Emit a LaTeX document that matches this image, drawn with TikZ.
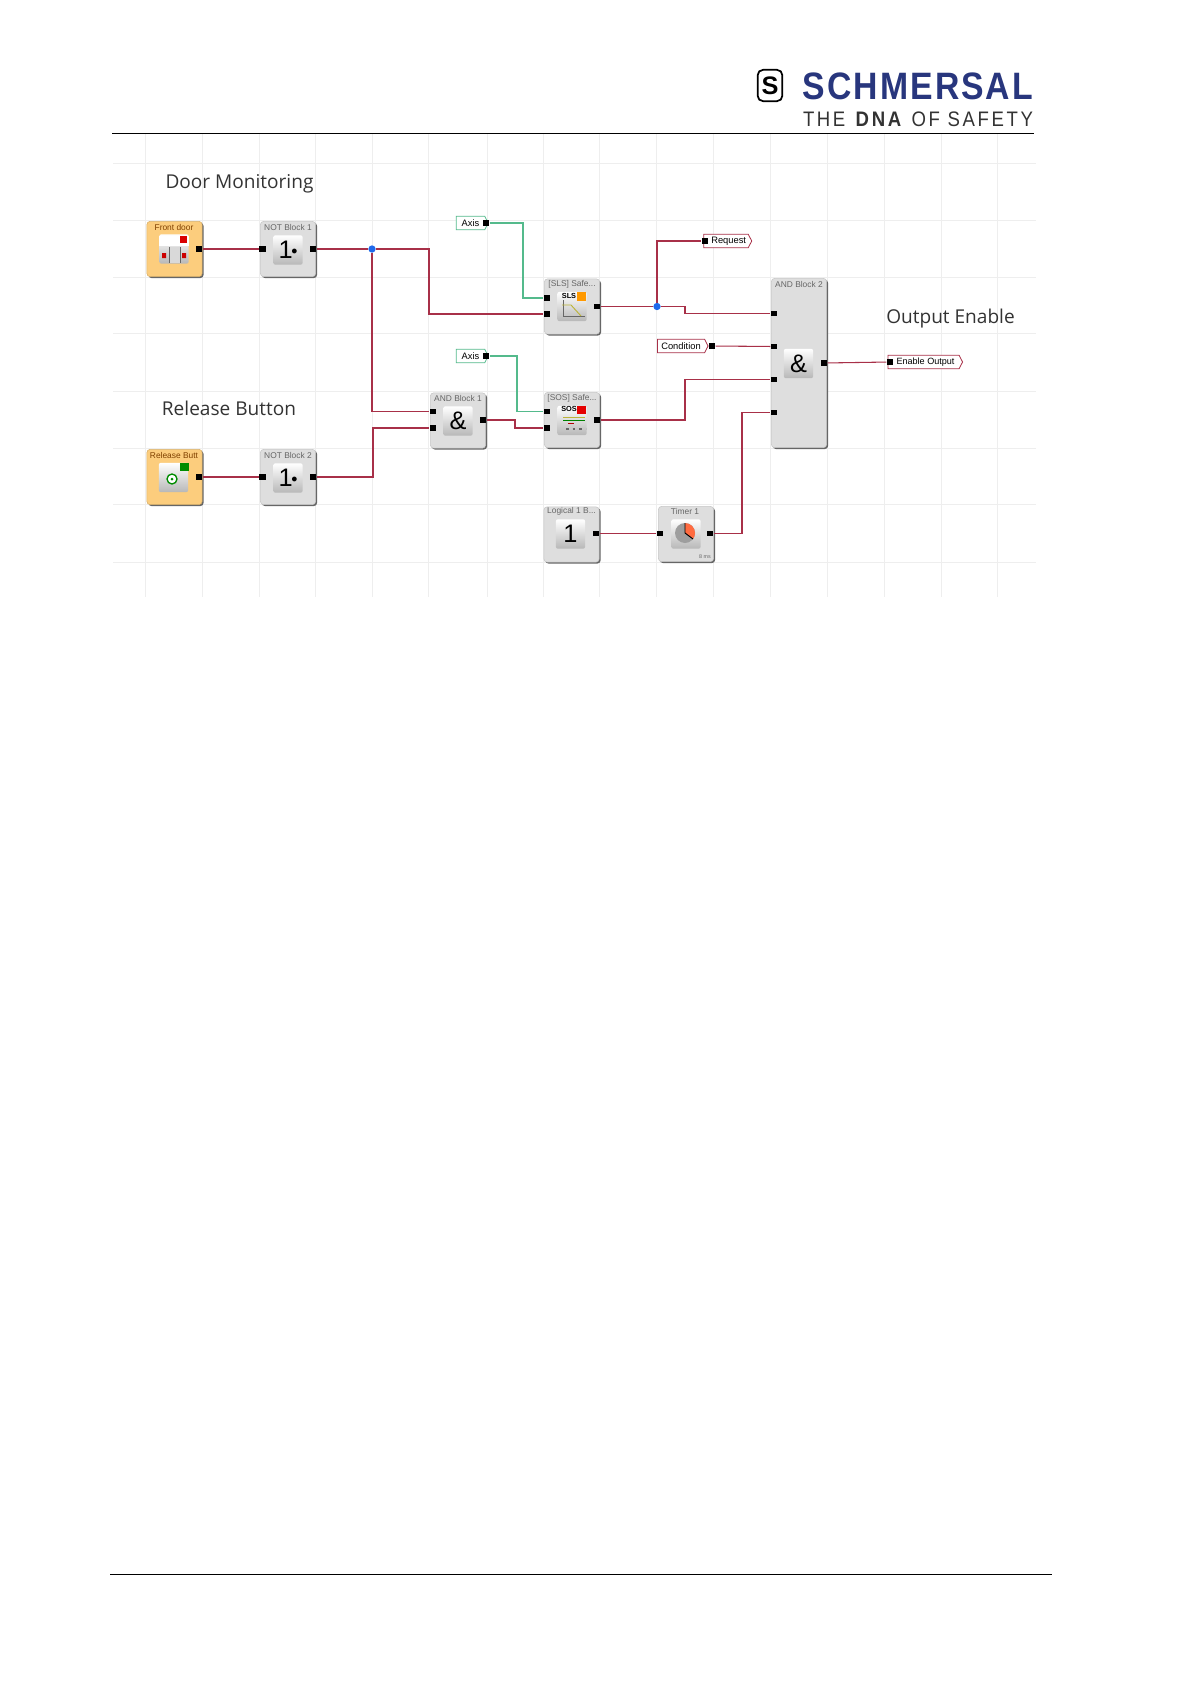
\documentclass[tikz,border=0pt]{standalone}
\usepackage{graphicx}
\usepackage{fontspec}
\setmainfont{Liberation Sans}
\newfontfamily\headfont{Open Sans}
\newfontfamily\brandfont[LetterSpace=6]{Liberation Sans}
\newfontfamily\linefont[LetterSpace=14]{Liberation Sans}
\usetikzlibrary{shadows,shapes.symbols}
\definecolor{wirered}{RGB}{168,48,72}
\definecolor{wiregreen}{RGB}{84,186,140}
\definecolor{gridgray}{RGB}{238,238,238}
\definecolor{brandblue}{RGB}{40,54,125}
\definecolor{dotblue}{RGB}{30,105,235}
\definecolor{inputorange}{RGB}{252,205,125}
\tikzset{
  blockbox/.style={rectangle,rounded corners=2.5pt,draw=gray!45,fill=black!13,
    minimum width=41.5pt,minimum height=41.5pt,inner sep=0pt,
    general shadow={shadow xshift=1.1pt,shadow yshift=-1.1pt,fill=black!60}},
  inputbox/.style={blockbox,fill=inputorange,draw=inputorange!85!black},
  iconbox/.style={rectangle,rounded corners=1.5pt,top color=white,bottom color=black!28,
    minimum width=22pt,minimum height=22pt,inner sep=0pt},
  symbolbox/.style={iconbox,font=\fontsize{19}{19}\selectfont},
  porthole/.style={rectangle,fill=black,minimum width=5pt,minimum height=4pt,inner sep=0pt},
  joint/.style={circle,fill=dotblue,minimum size=5.5pt,inner sep=0pt},
  wire/.style={draw=wirered,line width=0.8pt},
  greenwire/.style={draw=wiregreen,line width=0.8pt},
  blocktitle/.style={font=\fontsize{6.3}{7}\selectfont,text=black!60,inner sep=0pt},
  doortitle/.style={blocktitle,text=orange!50!black},
  tagin/.style={shape=signal,signal to=east,signal pointer angle=125,draw=wirered,fill=white,line width=0.6pt,
    inner sep=0pt,minimum height=10pt,font=\fontsize{7}{8}\selectfont},
  axistag/.style={tagin,draw=wiregreen},
  heading/.style={font=\headfont\fontsize{14.3}{16}\selectfont,text=black!80,inner sep=0pt},
}

\begin{document}
\begin{tikzpicture}[x=0.75pt,y=0.75pt,yscale=-1,xscale=1]
\useasboundingbox (0,0) rectangle (1190,1684);

%Grid
\foreach \gridx in {145,202,259,315,372,428,487,543,599,656,713,770,827,884,941,997}
  \draw [gridgray] (\gridx,134) -- (\gridx,597);
\foreach \gridy in {163,220,277,333,391,448,504,562}
  \draw [gridgray] (113,\gridy) -- (1036,\gridy);

%Header and footer rules
\draw [line width=0.7pt] (112,133) -- (1034,133);
\draw [line width=0.7pt] (110,1574) -- (1052,1574);

%Logo
\node (logobox) at (770,85.5) [rectangle,rounded corners=4pt,draw=black,line width=1.3pt,minimum width=18.5pt,minimum height=23.5pt,inner sep=0pt] {\fontsize{19}{19}\selectfont\bfseries S};
\node (brandname) at (918,86.5) [inner sep=0pt,text=brandblue] {\resizebox{172.5pt}{20pt}{\brandfont\bfseries SCHMERSAL}};
\node (brandline) at (918,119) [inner sep=0pt,text=black!80] {\resizebox{172.5pt}{11pt}{\linefont THE \textbf{DNA} OF SAFETY}};

% Text Node
\node (doorhead) at (239.5,184) [heading] {Door Monitoring};
\node (releasehead) at (229,408.5) [heading] {Release Button};
\node (outputhead) at (950.5,319) [heading] {Output Enable};

%Blocks
\node (frontdoor) at (174.5,249) [inputbox] {};
\node (notone) at (288,249) [blockbox] {};
\node (releasebtn) at (174.5,477) [inputbox] {};
\node (nottwo) at (288,477) [blockbox] {};
\node (andone) at (458,420.5) [blockbox] {};
\node (slsblock) at (572,306.5) [blockbox] {};
\node (sosblock) at (572,420) [blockbox] {};
\node (logicone) at (571.5,534.5) [blockbox] {};
\node (timerone) at (686,534) [blockbox] {};
\node (andtwo) at (799,363) [blockbox,minimum height=127pt] {};

%Block titles
\node (fronttitle) at (174,227.5) [doortitle] {Front door};
\node (notonetitle) at (288,227.5) [blocktitle] {NOT Block 1};
\node (releasetitle) at (174,455) [doortitle] {Release Butt};
\node (nottwotitle) at (288,455) [blocktitle] {NOT Block 2};
\node (andonetitle) at (458,398.5) [blocktitle] {AND Block 1};
\node (slstitle) at (572,284) [blocktitle] {[SLS] Safe...};
\node (sostitle) at (572,398) [blocktitle] {[SOS] Safe...};
\node (logictitle) at (571.5,511.5) [blocktitle] {Logical 1 B...};
\node (timertitle) at (685,511) [blocktitle] {Timer 1};
\node (andtwotitle) at (799,284) [blocktitle] {AND Block 2};
\node (timerunit) at (705,557) [blocktitle,font=\fontsize{4}{4}\selectfont] {8 ms};

%Icons
\node (notoneicon) at (288,250) [symbolbox] {1\hspace{-1pt}\raisebox{3.5pt}{\fontsize{9}{9}\selectfont$\bullet$}};
\node (nottwoicon) at (288,478) [symbolbox] {1\hspace{-1pt}\raisebox{3.5pt}{\fontsize{9}{9}\selectfont$\bullet$}};
\node (andoneicon) at (458,421) [symbolbox] {\&};
\node (andtwoicon) at (798.5,363.5) [symbolbox] {\&};
\node (logicicon) at (570.5,534) [symbolbox] {1};
\node (timericon) at (686,534) [iconbox] {};
\node (sosicon) at (572,420.5) [iconbox] {};
\node (slsicon) at (572,306.5) [iconbox] {};
\node (fronticon) at (174,249) [iconbox] {};
\node (releaseicon) at (173.5,477.5) [iconbox] {};

%Shape: door icon
\fill [white] (159,236) rectangle (189,246);
\fill [black!15] (169,247) rectangle (180,263);
\draw [black!60] (169,247) -- (169,263) (180,247) -- (180,263);
\fill [red!85!black] (180,236) rectangle (187,243);
\fill [red!80!black] (162,253) rectangle (166,258) (182,253) rectangle (186,258);
%Shape: button icon
\fill [green!55!black] (180,463) rectangle (189,471);
\draw [green!55!black,fill=white,line width=1pt] (172,479) circle (5);
\fill [green!55!black] (172,479) circle (1.5);
%Shape: SLS icon
\node (slsname) at (569,295.5) [inner sep=0pt,font=\fontsize{5.5}{6}\selectfont\bfseries] {SLS};
\fill [orange!80!yellow] (577,292) rectangle (586,301);
\draw [black!60,line width=0.4pt] (563,300) -- (563,316) -- (585,316);
\draw [yellow!70!black,line width=0.7pt] (562,305) -- (571,305) -- (581,316);
%Shape: SOS icon
\node (sosname) at (569,409) [inner sep=0pt,font=\fontsize{5.5}{6}\selectfont\bfseries] {SOS};
\fill [red!90!black] (577,406) rectangle (586,414);
\draw [yellow!70!black,line width=0.5pt] (563,417) -- (585,417);
\draw [green!50!black,line width=0.5pt] (563,420) -- (585,420);
\draw [red!70!black,line width=0.5pt] (568,423) -- (574,423);
\draw [black!60,line width=0.8pt,dash pattern={on 2pt off 3pt}] (566,429) -- (586,429);
%Shape: timer icon
\fill [black!38] (685,533) circle (10);
\fill [red!55!orange!75] (685,533) -- (685,523) arc (-90:35:10) -- cycle;
\draw [line width=0.7pt] (685,523) -- (685,533) -- (693,539);

%Ports
\node (frontout) at (199,249) [porthole] {};
\node (notonein) at (262.5,249) [porthole] {};
\node (notoneout) at (313,249) [porthole] {};
\node (releaseout) at (199,477) [porthole] {};
\node (nottwoin) at (262.5,477) [porthole] {};
\node (nottwoout) at (313,477) [porthole] {};
\node (andonea) at (433,411.5) [porthole] {};
\node (andoneb) at (433,428) [porthole] {};
\node (andoneout) at (483,420) [porthole] {};
\node (slsa) at (547,298) [porthole] {};
\node (slsb) at (547,314) [porthole] {};
\node (slsout) at (597,306.5) [porthole] {};
\node (sosa) at (547,411.5) [porthole] {};
\node (sosb) at (547,428) [porthole] {};
\node (sosout) at (597,420) [porthole] {};
\node (logicout) at (596,533.5) [porthole] {};
\node (timerin) at (660,533.5) [porthole] {};
\node (timerout) at (710,533.5) [porthole] {};
\node (andtwoa) at (774,313.5) [porthole] {};
\node (andtwob) at (774,346.5) [porthole] {};
\node (andtwoc) at (774,379.5) [porthole] {};
\node (andtwod) at (774,412.5) [porthole] {};
\node (andtwoout) at (824,363) [porthole] {};

%Tags
\node (axisone) at (470.5,223) [axistag,minimum width=24pt] {Axis\hspace{5pt}};
\node (axistwo) at (470.5,356) [axistag,minimum width=24pt] {Axis\hspace{5pt}};
\node (conditiontag) at (681,346) [tagin,minimum width=38pt] {Condition\hspace{3pt}};
\node (requesttag) at (726,241) [tagin,minimum width=36pt] {\hspace{4pt}Request};
\node (enabletag) at (923.5,362) [tagin,minimum width=56pt,font=\fontsize{6.8}{8}\selectfont] {\hspace{3pt}Enable Output};
\node (axisoneout) at (486,223) [porthole] {};
\node (axistwoout) at (486,356) [porthole] {};
\node (conditionout) at (712,346) [porthole] {};
\node (requestin) at (705,241) [porthole] {};
\node (enablein) at (890,362) [porthole] {};

%Junctions
\node (doorjoint) at (372,249) [joint] {};
\node (slsjoint) at (657,306.5) [joint] {};

%Straight Lines
\draw [wire] (frontout) -- (notonein);
\draw [wire] (releaseout) -- (nottwoin);
\draw [wire] (notoneout) -- (doorjoint);
\draw [wire] (doorjoint) -- (429,249) |- (slsb);
\draw [wire] (doorjoint) |- (andonea);
\draw [wire] (nottwoout) -- (373,477) |- (andoneb);
\draw [wire] (andoneout) -- (515,420) |- (sosb);
\draw [wire] (slsout) -- (slsjoint);
\draw [wire] (slsjoint) |- (requestin);
\draw [wire] (slsjoint) -- (685,306.5) |- (andtwoa);
\draw [wire] (conditionout) -- (andtwob);
\draw [wire] (sosout) -- (685,420) |- (andtwoc);
\draw [wire] (logicout) -- (timerin);
\draw [wire] (timerout) -- (742,533.5) |- (andtwod);
\draw [wire] (andtwoout) -- (enablein);
\draw [greenwire] (axisoneout) -- (523,223) |- (slsa);
\draw [greenwire] (axistwoout) -- (517,356) |- (sosa);

\end{tikzpicture}
\end{document}
